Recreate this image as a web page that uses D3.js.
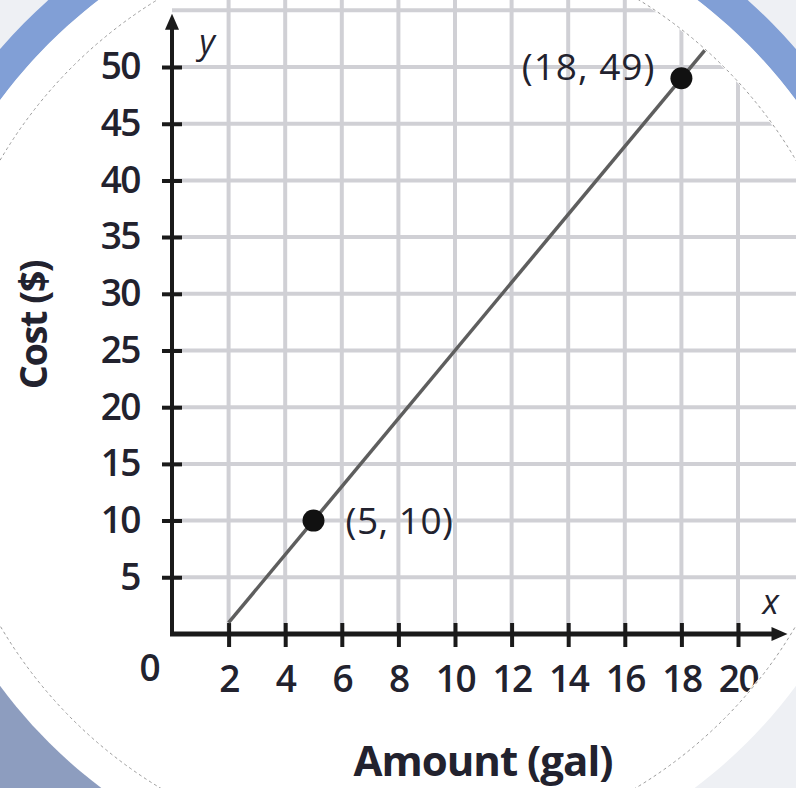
<!DOCTYPE html>
<html><head><meta charset="utf-8">
<script src="https://cdn.jsdelivr.net/npm/d3@7"></script>
<style>
html,body{margin:0;padding:0;background:#fff;}
svg{display:block;}
</style></head>
<body>
<svg id="c" width="796" height="788"></svg>
<script>
// ---- data ----
const xTicks = [2, 4, 6, 8, 10, 12, 14, 16, 18, 20];
const yTicks = [5, 10, 15, 20, 25, 30, 35, 40, 45, 50];
const gridX = [2, 4, 6, 8, 10, 12, 14, 16, 18, 20];
const gridY = [5, 10, 15, 20, 25, 30, 35, 40, 45, 50, 55];
const lineX = [2, 19];
const lineY = [1, 52];
const pointX = [5, 18];
const pointY = [10, 49];
const pointLabels = ["(5, 10)", "(18, 49)"];
const xTitle = "Amount (gal)";
const yTitle = "Cost ($)";

const W = 796, H = 788;
const svg = d3.select("#c");
const cx = 398, cy = 393;
const font = "'Open Sans', 'Noto Sans', sans-serif";
const ink = "#22222e";

// ---- background (photo of circular card) ----
svg.append("rect").attr("width", W).attr("height", H).attr("fill", "#eef0f4");
const g0 = svg.append("g").attr("transform", `translate(${cx},${cy})`);
const arc = d3.arc();
g0.append("path").attr("d", arc({innerRadius: 494, outerRadius: 526, startAngle: -Math.PI * 0.62, endAngle: Math.PI * 0.62}))
  .attr("fill", "#819fd6");
g0.append("path").attr("d", arc({innerRadius: 490, outerRadius: 570, startAngle: Math.PI * 1.05, endAngle: Math.PI * 1.45}))
  .attr("fill", "#8d9dbf");
g0.append("circle").attr("r", 494).attr("fill", "#ffffff");
g0.append("circle").attr("r", 461).attr("fill", "none").attr("stroke", "#9a9a9a")
  .attr("stroke-width", 1).attr("stroke-dasharray", "3,3");

svg.append("clipPath").attr("id", "clip").append("circle")
  .attr("cx", cx).attr("cy", cy).attr("r", 460);

// ---- scales ----
const x = d3.scaleLinear().domain([0, 20]).range([172, 738]);
const y = d3.scaleLinear().domain([0, 50]).range([634, 67]);

const g = svg.append("g").attr("clip-path", "url(#clip)");

// grid
g.append("g").selectAll("line").data(gridX).join("line")
  .attr("x1", d => x(d)).attr("x2", d => x(d))
  .attr("y1", y(0)).attr("y2", y(58))
  .attr("stroke", "#d0d0d5").attr("stroke-width", 4);
g.append("g").selectAll("line").data(gridY).join("line")
  .attr("x1", x(0)).attr("x2", x(23))
  .attr("y1", d => y(d)).attr("y2", d => y(d))
  .attr("stroke", "#d0d0d5").attr("stroke-width", 4);

// axes lines
const xEnd = x(21.75), yEnd = y(54.7);
g.append("line").attr("x1", x(0) - 2).attr("x2", xEnd - 8).attr("y1", y(0)).attr("y2", y(0))
  .attr("stroke", "#1a1a1a").attr("stroke-width", 5);
g.append("line").attr("x1", x(0)).attr("x2", x(0)).attr("y1", y(0)).attr("y2", yEnd + 8)
  .attr("stroke", "#1a1a1a").attr("stroke-width", 4);
g.append("path").attr("d", `M${xEnd},${y(0)} L${xEnd - 16},${y(0) - 7} L${xEnd - 16},${y(0) + 7} Z`).attr("fill", "#1a1a1a");
g.append("path").attr("d", `M${x(0)},${yEnd} L${x(0) - 7},${yEnd + 16} L${x(0) + 7},${yEnd + 16} Z`).attr("fill", "#1a1a1a");

// axis ticks + labels via d3 axes
const yAxisL = d3.axisLeft(y).tickValues(yTicks).tickSize(10).tickPadding(22);
const yAxisR = d3.axisRight(y).tickValues(yTicks).tickSize(10).tickFormat("");
const xAxisB = d3.axisBottom(x).tickValues(xTicks).tickSize(13).tickPadding(19);
const xAxisT = d3.axisTop(x).tickValues(xTicks).tickSize(11).tickFormat("");

function styleAxis(sel) {
  sel.select(".domain").remove();
  sel.selectAll(".tick line").attr("stroke", "#1a1a1a").attr("stroke-width", 4);
  sel.selectAll(".tick text").attr("fill", ink).style("font-family", font)
    .style("font-size", "37px").style("font-weight", "600").style("letter-spacing", "-1.5px");
}
g.append("g").attr("transform", `translate(${x(0)},0)`).call(yAxisL).call(styleAxis);
g.append("g").attr("transform", `translate(${x(0)},0)`).call(yAxisR).call(styleAxis);
g.append("g").attr("transform", `translate(0,${y(0)})`).call(xAxisB).call(styleAxis);
g.append("g").attr("transform", `translate(0,${y(0)})`).call(xAxisT).call(styleAxis);
g.selectAll(".tick text").attr("font-size", null);

// origin label
g.append("text").attr("x", x(0) - 22).attr("y", y(0) + 47).attr("text-anchor", "middle")
  .attr("fill", ink).style("font-family", font).style("font-size", "37px").style("font-weight", "600").text("0");

// axis letters
g.append("text").attr("x", x(0) + 35).attr("y", yEnd + 40)
  .attr("text-anchor", "middle").attr("fill", ink).style("font-family", font)
  .style("font-size", "34px").style("font-style", "italic").text("y");
g.append("text").attr("x", x(21.15)).attr("y", y(0) - 20)
  .attr("text-anchor", "middle").attr("fill", ink).style("font-family", font)
  .style("font-size", "34px").style("font-style", "italic").text("x");

// data line
g.append("path").datum(d3.range(lineX.length))
  .attr("d", d3.line().x(i => x(lineX[i])).y(i => y(lineY[i])))
  .attr("fill", "none").attr("stroke", "#5e5e5e").attr("stroke-width", 3.5);

// points
g.append("g").selectAll("circle").data(d3.range(pointX.length)).join("circle")
  .attr("cx", i => x(pointX[i])).attr("cy", i => y(pointY[i])).attr("r", 11)
  .attr("fill", "#111");

// point labels
g.append("text").attr("x", x(pointX[0]) + 32).attr("y", y(pointY[0]) + 13)
  .attr("fill", ink).style("font-family", font).style("font-size", "37px")
  .style("letter-spacing", "0.5px").text(pointLabels[0]);
g.append("text").attr("x", x(pointX[1]) - 26).attr("y", y(pointY[1]) + 2)
  .attr("text-anchor", "end")
  .attr("fill", ink).style("font-family", font).style("font-size", "37px")
  .style("letter-spacing", "1px").text(pointLabels[1]);

// titles
svg.append("text").attr("x", 483).attr("y", 776).attr("text-anchor", "middle")
  .attr("fill", ink).style("font-family", font).style("font-size", "42px").style("font-weight", "bold")
  .style("letter-spacing", "-1px").text(xTitle);
svg.append("text").attr("transform", "translate(47,325) rotate(-90)").attr("text-anchor", "middle")
  .attr("fill", ink).style("font-family", font).style("font-size", "38px").style("font-weight", "bold")
  .style("letter-spacing", "-1.5px").text(yTitle);
</script>
</body></html>
